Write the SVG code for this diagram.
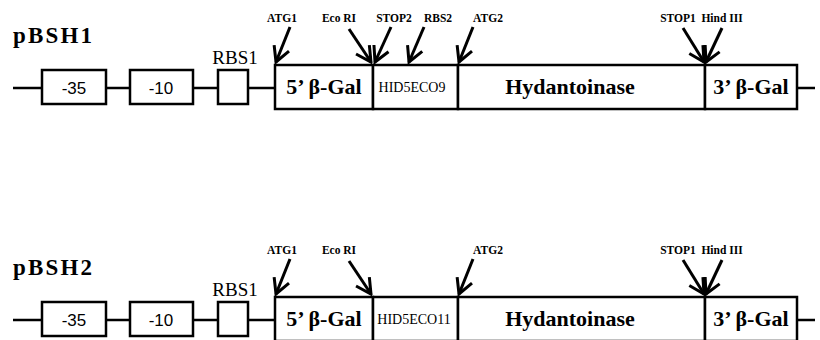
<svg xmlns="http://www.w3.org/2000/svg" width="820" height="340" viewBox="0 0 820 340">
<style>
.bx{fill:#fff;stroke:#000;stroke-width:2.5}
.ln{stroke:#000;stroke-width:2.5;fill:none}
.ar{stroke:#000;stroke-width:3;fill:none;marker-end:url(#v)}
.ttl{font-family:"Liberation Serif",serif;font-weight:bold;font-size:23px}
.sans{font-family:"Liberation Sans",sans-serif;font-size:17px;text-anchor:middle}
.ser{font-family:"Liberation Serif",serif;font-size:19px;text-anchor:middle}
.big{font-family:"Liberation Serif",serif;font-weight:bold;font-size:22px;text-anchor:middle}
.hid{font-family:"Liberation Serif",serif;font-size:14px;text-anchor:middle}
.site{font-family:"Liberation Serif",serif;font-weight:bold;font-size:11.5px;text-anchor:middle}
</style>
<defs>
<marker id="v" viewBox="-18 -10 20 20" refX="0" refY="0" markerWidth="20" markerHeight="20" markerUnits="userSpaceOnUse" orient="auto">
<path d="M-15,-8 L0,0 L-15,8" fill="none" stroke="#000" stroke-width="3"/>
</marker>
</defs>

<!-- Row 1 -->
<g id="row1">
<text class="ttl" x="13" y="43" textLength="79">pBSH1</text>
<g id="connectors1">
<path class="ln" d="M13,88 H42 M106,88 H130 M193,88 H218 M248,88 H274 M797,88 H815"/>
<line class="ar" x1="290" y1="27" x2="276" y2="62"/>
<line class="ar" x1="349" y1="29" x2="371" y2="62"/>
<line class="ar" x1="391" y1="27" x2="375" y2="62"/>
<line class="ar" x1="424" y1="27" x2="409" y2="62"/>
<line class="ar" x1="473" y1="27" x2="459" y2="62"/>
<line class="ar" x1="683" y1="28" x2="704" y2="62"/>
<line class="ar" x1="722" y1="28" x2="706" y2="62"/>
</g>
<g id="p1-m35"><rect class="bx" x="42" y="70" width="64" height="34"/><text class="sans" x="74" y="94">-35</text></g>
<g id="p1-m10"><rect class="bx" x="130" y="70" width="63" height="34"/><text class="sans" x="161" y="94">-10</text></g>
<g id="p1-rbs1"><rect class="bx" x="218" y="70" width="30" height="34"/><text class="ser" x="235" y="64">RBS1</text></g>
<g id="p1-gal5"><rect class="bx" x="275" y="65" width="98" height="44"/><text class="big" x="324" y="94">5’ β-Gal</text></g>
<g id="p1-hid"><rect class="bx" x="373" y="65" width="85" height="44"/><text class="hid" x="412" y="92">HID5ECO9</text></g>
<g id="p1-hyd"><rect class="bx" x="458" y="65" width="247" height="44"/><text class="big" x="570" y="94">Hydantoinase</text></g>
<g id="p1-gal3"><rect class="bx" x="705" y="65" width="92" height="44"/><text class="big" x="751" y="94">3’ β-Gal</text></g>
<g id="p1-labels">
<text class="site" x="282" y="22">ATG1</text>
<text class="site" x="339" y="22">Eco RI</text>
<text class="site" x="394" y="22">STOP2</text>
<text class="site" x="438" y="22">RBS2</text>
<text class="site" x="488" y="22">ATG2</text>
<text class="site" x="678" y="22">STOP1</text>
<text class="site" x="722" y="22">Hind III</text>
</g>
</g>

<!-- Row 2 -->
<g id="row2" transform="translate(0,232)">
<text class="ttl" x="13" y="43" textLength="79">pBSH2</text>
<g id="connectors2">
<path class="ln" d="M13,88 H42 M106,88 H130 M193,88 H218 M248,88 H274 M797,88 H815"/>
<line class="ar" x1="290" y1="27" x2="276" y2="62"/>
<line class="ar" x1="349" y1="29" x2="371" y2="62"/>
<line class="ar" x1="473" y1="27" x2="459" y2="62"/>
<line class="ar" x1="683" y1="28" x2="704" y2="62"/>
<line class="ar" x1="722" y1="28" x2="706" y2="62"/>
</g>
<g id="p2-m35"><rect class="bx" x="42" y="70" width="64" height="34"/><text class="sans" x="74" y="94">-35</text></g>
<g id="p2-m10"><rect class="bx" x="130" y="70" width="63" height="34"/><text class="sans" x="161" y="94">-10</text></g>
<g id="p2-rbs1"><rect class="bx" x="218" y="70" width="30" height="34"/><text class="ser" x="235" y="64">RBS1</text></g>
<g id="p2-gal5"><rect class="bx" x="275" y="65" width="98" height="44"/><text class="big" x="324" y="94">5’ β-Gal</text></g>
<g id="p2-hid"><rect class="bx" x="373" y="65" width="85" height="44"/><text class="hid" x="414" y="92">HID5ECO11</text></g>
<g id="p2-hyd"><rect class="bx" x="458" y="65" width="247" height="44"/><text class="big" x="570" y="94">Hydantoinase</text></g>
<g id="p2-gal3"><rect class="bx" x="705" y="65" width="92" height="44"/><text class="big" x="751" y="94">3’ β-Gal</text></g>
<g id="p2-labels">
<text class="site" x="282" y="22">ATG1</text>
<text class="site" x="339" y="22">Eco RI</text>
<text class="site" x="488" y="22">ATG2</text>
<text class="site" x="678" y="22">STOP1</text>
<text class="site" x="722" y="22">Hind III</text>
</g>
</g>
</svg>
